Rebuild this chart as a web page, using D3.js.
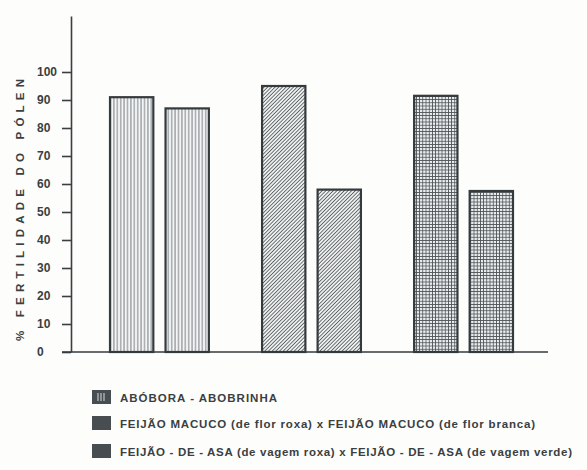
<!DOCTYPE html>
<html lang="pt">
<head>
<meta charset="UTF-8">
<title>Fertilidade do pólen</title>
<script src="https://d3js.org/d3.v7.min.js"></script>
<style>
  body { margin: 0; background: #fdfdfb; }
  svg { display: block; }
  .axis text { font-family: 'Liberation Sans', Arial, sans-serif; font-weight: bold; font-size: 12px; fill: #3a3f42; }
  .axis path, .axis line { stroke: #3a3f42; stroke-width: 1.6; }
  .lbl { font-family: 'Liberation Sans', Arial, sans-serif; font-weight: bold; fill: #3a3f42; }
</style>
</head>
<body>
<div id="chart"></div>
<script>
  // dados
  const groups = ["ABÓBORA - ABOBRINHA",
                  "FEIJÃO MACUCO (de flor roxa) x FEIJÃO MACUCO (de flor branca)",
                  "FEIJÃO - DE - ASA (de vagem roxa) x FEIJÃO - DE - ASA (de vagem verde)"];
  const pair = ["a", "b"];
  const valuesA = [91, 95, 91.5];
  const valuesB = [87, 58, 57.5];
  const yTicks = [0, 10, 20, 30, 40, 50, 60, 70, 80, 90, 100];
  const yTitle = "% FERTILIDADE DO PÓLEN";
  const patterns = ["vert", "diag", "grid"];

  const W = 587, H = 470;
  const ink = "#353a3d";

  const svg = d3.select("#chart").append("svg").attr("width", W).attr("height", H);
  const defs = svg.append("defs");

  // padroes de hachura
  const pv = defs.append("pattern").attr("id", "vert").attr("patternUnits", "userSpaceOnUse")
    .attr("width", 3.4).attr("height", 10);
  pv.append("rect").attr("width", 3.4).attr("height", 10).attr("fill", "#f4f6f6");
  pv.append("line").attr("x1", 1.7).attr("x2", 1.7).attr("y1", 0).attr("y2", 10)
    .attr("stroke", "#6d7376").attr("stroke-width", 0.9);

  const pd = defs.append("pattern").attr("id", "diag").attr("patternUnits", "userSpaceOnUse")
    .attr("width", 2.6).attr("height", 10).attr("patternTransform", "rotate(45)");
  pd.append("rect").attr("width", 2.6).attr("height", 10).attr("fill", "#eef0f0");
  pd.append("line").attr("x1", 1.3).attr("x2", 1.3).attr("y1", 0).attr("y2", 10)
    .attr("stroke", "#5b6164").attr("stroke-width", 0.9);

  const pg = defs.append("pattern").attr("id", "grid").attr("patternUnits", "userSpaceOnUse")
    .attr("width", 3.2).attr("height", 3.2);
  pg.append("rect").attr("width", 3.2).attr("height", 3.2).attr("fill", "#e9ecec");
  pg.append("path").attr("d", "M0,0.4H3.2M0.4,0V3.2").attr("stroke", "#4a5053").attr("stroke-width", 0.8);

  const y = d3.scaleLinear().domain([0, 120]).range([352, 16]);
  const x0 = d3.scaleBand().domain(groups).range([72, 551]).paddingInner(0.35).paddingOuter(0.25);
  const x1 = d3.scaleBand().domain(pair).range([0, x0.bandwidth()]).paddingInner(0.22);

  // eixo y
  const yAxis = svg.append("g").attr("class", "axis").attr("transform", "translate(71,0)")
    .call(d3.axisLeft(y).tickValues(yTicks).tickSize(9).tickSizeOuter(0));
  yAxis.selectAll("text").attr("x", -34).attr("text-anchor", "start");

  // barras
  const data = [];
  groups.forEach((g, i) => {
    data.push({ g, k: "a", v: valuesA[i], p: patterns[i] });
    data.push({ g, k: "b", v: valuesB[i], p: patterns[i] });
  });

  svg.append("g").selectAll("rect").data(data).join("rect")
    .attr("x", d => x0(d.g) + x1(d.k))
    .attr("y", d => y(d.v))
    .attr("width", x1.bandwidth())
    .attr("height", d => y(0) - y(d.v))
    .attr("fill", d => `url(#${d.p})`)
    .attr("stroke", ink).attr("stroke-width", 2.2);

  // linha de base
  svg.append("line").attr("x1", 62).attr("x2", 548).attr("y1", y(0)).attr("y2", y(0))
    .attr("stroke", ink).attr("stroke-width", 1.6);

  // titulo do eixo
  svg.append("text").attr("class", "lbl")
    .attr("transform", `translate(24,${(y(0) + y(100)) / 2 - 2}) rotate(-90)`)
    .attr("text-anchor", "middle").attr("font-size", 11.5)
    .attr("textLength", 262).attr("lengthAdjust", "spacing")
    .text(yTitle);

  // legenda
  const legTop = [390, 416, 444];
  const legLen = [157, 415, 452];
  const leg = svg.append("g").selectAll("g").data(groups).join("g")
    .attr("transform", (d, i) => `translate(92,${legTop[i]})`);
  leg.append("rect").attr("width", 19).attr("height", 14).attr("fill", "#474d51");
  leg.filter((d, i) => i === 0).selectAll("line").data([6, 9, 12]).join("line")
    .attr("x1", d => d).attr("x2", d => d).attr("y1", 3).attr("y2", 11)
    .attr("stroke", "#d8dcdc").attr("stroke-width", 1);
  leg.append("text").attr("class", "lbl")
    .attr("x", 28).attr("y", 11.5).attr("font-size", 11.5)
    .attr("textLength", (d, i) => legLen[i]).attr("lengthAdjust", "spacing")
    .text(d => d);
</script>
</body>
</html>
